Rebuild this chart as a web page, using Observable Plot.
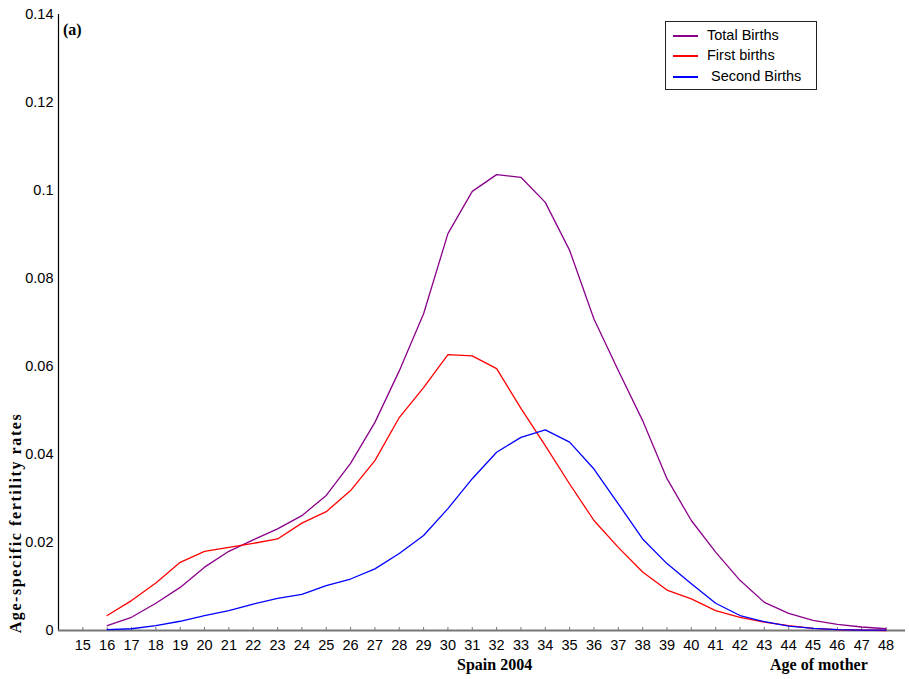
<!DOCTYPE html>
<html>
<head>
<meta charset="utf-8">
<script src="https://cdn.jsdelivr.net/npm/d3@7"></script>
<script src="https://cdn.jsdelivr.net/npm/@observablehq/plot@0.6"></script>
<style>
  html, body { margin: 0; padding: 0; background: #fff; }
  #wrap { position: relative; width: 909px; height: 679px; overflow: hidden; }
  .serif { position: absolute; font-family: "Liberation Serif", "Times New Roman", serif; font-weight: bold; font-size: 16px; color: #000; white-space: nowrap; line-height: 1; }
  #legend { position: absolute; left: 665px; top: 21px; width: 150px; height: 67px; border: 1px solid #222; background: #fff; font-family: "Liberation Sans", Arial, sans-serif; font-size: 14.5px; color: #000; }
  .row { position: absolute; left: 0; height: 18px; width: 150px; }
  .row .sw { position: absolute; left: 7px; top: 9px; width: 25px; height: 2px; }
  .row .lb { position: absolute; left: 41px; top: 0; line-height: 18px; white-space: pre; }
</style>
</head>
<body>
<div id="wrap"></div>
<script>
const ages = [16,17,18,19,20,21,22,23,24,25,26,27,28,29,30,31,32,33,34,35,36,37,38,39,40,41,42,43,44,45,46,47,48];
const totalBirths = [0.0011,0.0030,0.0062,0.0098,0.0144,0.0180,0.0206,0.0231,0.0261,0.0307,
  0.0380,0.0473,0.0590,0.0720,0.0902,0.0998,0.1036,0.1030,0.0973,0.0864,
  0.0708,0.0591,0.0477,0.0345,0.0250,0.0178,0.0114,0.0064,0.0039,0.0023,0.0014,0.0008,0.0004];
const firstBirths = [0.0034,0.0068,0.0108,0.0155,0.0180,0.0189,0.0198,0.0208,0.0244,0.0270,
  0.0318,0.0386,0.0484,0.0552,0.0627,0.0624,0.0595,0.0505,0.0420,0.0333,
  0.0250,0.0189,0.0133,0.0092,0.0072,0.0045,0.0030,0.0019,0.0011,0.0005,0.0002,0.0001,0.0000];
const secondBirths = [0.0002,0.0004,0.0011,0.0021,0.0034,0.0045,0.0060,0.0073,0.0082,0.0102,
  0.0117,0.0140,0.0175,0.0216,0.0277,0.0345,0.0405,0.0439,0.0456,0.0428,
  0.0367,0.0288,0.0208,0.0152,0.0106,0.0062,0.0034,0.0020,0.0010,0.0005,0.0002,0.0001,0.0001];
const xTicks = d3.range(15, 49);
const yTicks = [0, 0.02, 0.04, 0.06, 0.08, 0.1, 0.12, 0.14];
const seriesNames = ["Total Births", "First births", " Second Births"];
const seriesColors = ["#8B008B", "#FF0000", "#0000FF"];
const seriesValues = [totalBirths, firstBirths, secondBirths];

const rows = [];
seriesValues.forEach((vals, i) => ages.forEach((a, j) => rows.push({series: seriesNames[i], age: a, rate: vals[j]})));

const chart = Plot.plot({
  width: 909,
  height: 679,
  marginLeft: 58,
  marginRight: 4,
  marginTop: 14,
  marginBottom: 49,
  style: { fontFamily: "'Liberation Sans', Arial, sans-serif", fontSize: "14.5px", background: "#fff", color: "#000" },
  x: { domain: [14, 48.8] },
  y: { domain: [0, 0.14] },
  color: { domain: seriesNames, range: seriesColors },
  marks: [
    Plot.frame({ anchor: "left", stroke: "#000", strokeWidth: 1.2 }),
    Plot.axisY(yTicks, { tickSize: 0, tickPadding: 5, tickFormat: d => String(d), label: null, fill: "#000" }),
    Plot.axisX(xTicks, { tickSize: 3, tickFormat: () => "", dy: -3, stroke: "#777", label: null }),
    Plot.axisX(xTicks, { tickSize: 0, tickPadding: 9, tickFormat: d => String(d), label: null, fill: "#000" }),
    Plot.ruleY([0], { stroke: "#777", strokeWidth: 2 }),
    Plot.line(rows, { x: "age", y: "rate", z: "series", stroke: "series", strokeWidth: 1.3 })
  ]
});

const wrap = document.getElementById("wrap");
wrap.appendChild(chart);

function addText(txt, css) {
  const d = document.createElement("div");
  d.className = "serif";
  d.textContent = txt;
  Object.assign(d.style, css);
  wrap.appendChild(d);
  return d;
}
addText("(a)", { left: "63px", top: "22px" });
addText("Spain 2004", { left: "457px", top: "657px" });
addText("Age of mother", { left: "770px", top: "657px" });
addText("Age-specific fertility rates", { left: "16px", top: "523px", letterSpacing: "1.6px", transform: "translate(-50%, -50%) rotate(-90deg)" });

const legend = document.createElement("div");
legend.id = "legend";
seriesNames.forEach((n, i) => {
  const r = document.createElement("div");
  r.className = "row";
  r.style.top = [4, 24, 45][i] + "px";
  const sw = document.createElement("div");
  sw.className = "sw";
  sw.style.background = seriesColors[i];
  const lb = document.createElement("div");
  lb.className = "lb";
  lb.textContent = n;
  r.appendChild(sw); r.appendChild(lb);
  legend.appendChild(r);
});
wrap.appendChild(legend);
</script>
</body>
</html>
